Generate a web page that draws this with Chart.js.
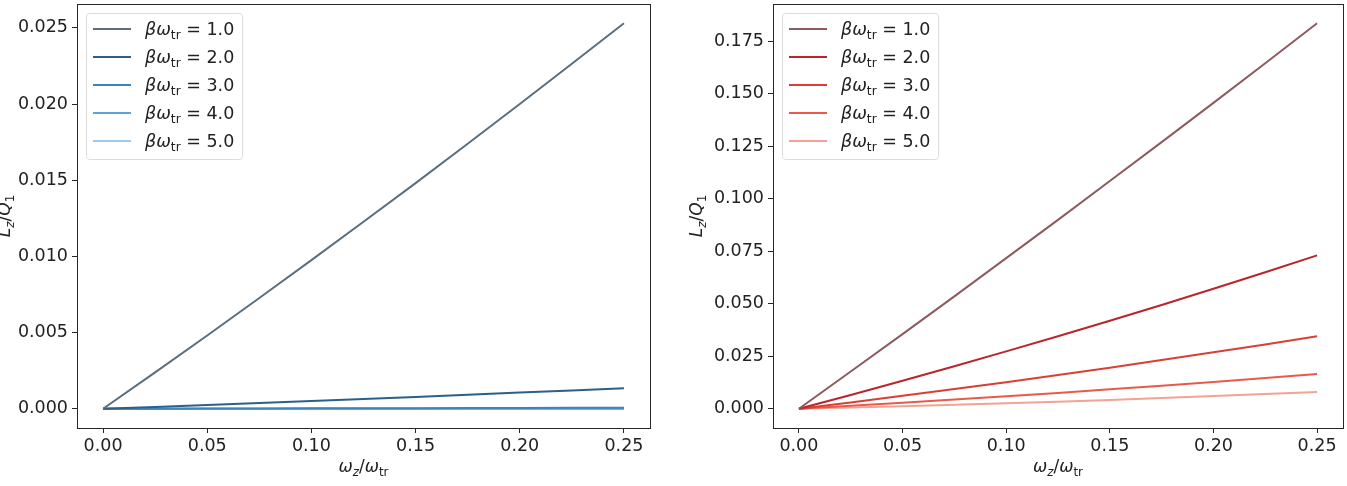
<!DOCTYPE html>
<html>
<head>
<meta charset="utf-8">
<script src="https://cdn.jsdelivr.net/npm/chart.js@4.4.0/dist/chart.umd.min.js"></script>
<style>
  body { margin: 0; background: #fff; width: 1347px; height: 486px; position: relative; overflow: hidden; }
  .box { position: absolute; top: 0; height: 486px; }
</style>
</head>
<body>
<div class="box" style="left:0;width:670px"><canvas id="leftChart"></canvas></div>
<div class="box" style="left:680px;width:667px"><canvas id="rightChart"></canvas></div>
<script>
// x positions (omega_z / omega_tr)
const xValues = [0, 0.025, 0.05, 0.075, 0.1, 0.125, 0.15, 0.175, 0.2, 0.225, 0.25];
const xTicks = [0, 0.05, 0.1, 0.15, 0.2, 0.25];
const leftYTicks = [0, 0.005, 0.01, 0.015, 0.02, 0.025];
const rightYTicks = [0, 0.025, 0.05, 0.075, 0.1, 0.125, 0.15, 0.175];
const betaLabels = ["1.0", "2.0", "3.0", "4.0", "5.0"];

// left panel (blues)
const blue1 = [0, 0.00239, 0.00481, 0.00727, 0.00975, 0.01227, 0.01481, 0.01739, 0.0200, 0.02264, 0.0253];
const blue2 = [0, 0.00012, 0.00025, 0.00037, 0.00050, 0.00064, 0.00077, 0.00091, 0.00106, 0.00120, 0.00135];
const blue3 = [0, 0.000005, 0.00001, 0.000017, 0.000024, 0.000031, 0.000038, 0.000046, 0.000054, 0.000062, 0.00007];
const blue4 = [0, 0.0000003, 0.0000006, 0.000001, 0.0000014, 0.0000018, 0.0000022, 0.0000027, 0.0000031, 0.0000036, 0.000004];
const blue5 = [0, 0, 0, 0.0000001, 0.0000001, 0.0000001, 0.0000001, 0.0000001, 0.0000002, 0.0000002, 0.0000002];

// right panel (reds)
const red1 = [0, 0.0177, 0.0355, 0.0535, 0.0717, 0.0899, 0.1084, 0.1269, 0.1456, 0.1645, 0.1835];
const red2 = [0, 0.00657, 0.0133, 0.0202, 0.0273, 0.0345, 0.0419, 0.0494, 0.0571, 0.0650, 0.073];
const red3 = [0, 0.00302, 0.00614, 0.00935, 0.01266, 0.01606, 0.01956, 0.02315, 0.02684, 0.03062, 0.0345];
const red4 = [0, 0.00139, 0.00285, 0.00435, 0.00592, 0.00754, 0.00922, 0.01096, 0.01275, 0.0146, 0.0165];
const red5 = [0, 0.00058, 0.0012, 0.00188, 0.00261, 0.00338, 0.00421, 0.00509, 0.00601, 0.00698, 0.008];

const blueColors = ["#5b6e7e", "#2c5f8a", "#3d84bf", "#62a1d5", "#a0c8e8"];
const redColors = ["#8c5a5f", "#b8262b", "#d83f35", "#e85a4c", "#f4a293"];

const FONT = "DejaVu Sans";
const TEXT = "#222";

// draw a small piece of "math" text: parts = [text, italic, subscript]
function drawMath(ctx, parts, x, y, size, align) {
  const fontFor = (p) => `${p[1] ? "italic " : ""}${p[2] ? size * 0.7 : size}px "${FONT}"`;
  let total = 0;
  parts.forEach((p) => { ctx.font = fontFor(p); total += ctx.measureText(p[0]).width; });
  let cx = align === "center" ? x - total / 2 : x;
  ctx.textBaseline = "alphabetic";
  ctx.textAlign = "left";
  ctx.fillStyle = TEXT;
  parts.forEach((p) => {
    ctx.font = fontFor(p);
    ctx.fillText(p[0], cx, y + size * 0.36 + (p[2] ? size * 0.22 : 0));
    cx += ctx.measureText(p[0]).width;
  });
}

const xTitle = [["ω", true], ["z", true, true], ["/", false], ["ω", true], ["tr", false, true]];
const yTitle = [["L", true], ["z", true, true], ["/", false], ["Q", true], ["1", false, true]];

// frame, axis titles and legend drawn in matplotlib style
const decorPlugin = {
  id: "decor",
  afterDatasetsDraw(chart) {
    const { ctx, chartArea: a } = chart;
    ctx.save();
    ctx.strokeStyle = "#262626";
    ctx.lineWidth = 1;
    ctx.strokeRect(Math.round(a.left) + 0.5, Math.round(a.top) + 0.5,
      Math.round(a.right - a.left), Math.round(a.bottom - a.top));

    // legend box
    const bx = a.left + 9, by = a.top + 9, bw = 156, bh = 146;
    ctx.beginPath();
    ctx.roundRect(bx + 0.5, by + 0.5, bw, bh, 3);
    ctx.fillStyle = "rgba(255,255,255,0.8)";
    ctx.fill();
    ctx.strokeStyle = "#dcdcdc";
    ctx.stroke();
    chart.data.datasets.forEach((ds, i) => {
      const ry = by + 16 + i * 28;
      ctx.beginPath();
      ctx.moveTo(bx + 7, ry);
      ctx.lineTo(bx + 45, ry);
      ctx.strokeStyle = ds.borderColor;
      ctx.lineWidth = 2;
      ctx.stroke();
      drawMath(ctx, [["β", true], ["ω", true], ["tr", false, true], [" = " + betaLabels[i], false]],
        bx + 59, ry, 17.5, "left");
    });

    // axis titles
    drawMath(ctx, xTitle, (a.left + a.right) / 2, 466, 17, "center");
    ctx.translate(chart.options.yTitleX, (a.top + a.bottom) / 2);
    ctx.rotate(-Math.PI / 2);
    drawMath(ctx, yTitle, 0, 0, 17, "center");
    ctx.restore();
  },
};

const noPadding = (s) => { s.paddingTop = 0; s.paddingBottom = 0; s.paddingLeft = 0; s.paddingRight = 0; };

function makeChart(canvas, series, colors, yTicks, yMin, yMax, axisWidth, rightPad, yTitleX) {
  return new Chart(canvas, {
    type: "line",
    data: {
      datasets: series.map((s, i) => ({
        label: "βω = " + betaLabels[i],
        data: xValues.map((x, j) => ({ x: x, y: s[j] })),
        borderColor: colors[i],
        borderWidth: 2,
        pointRadius: 0,
        tension: 0,
        fill: false,
      })),
    },
    options: {
      responsive: true,
      maintainAspectRatio: false,
      animation: false,
      yTitleX: yTitleX,
      layout: { padding: { top: 4, right: rightPad, left: 0, bottom: 0 } },
      plugins: { legend: { display: false }, tooltip: { enabled: false } },
      scales: {
        x: {
          type: "linear",
          min: -0.0125,
          max: 0.2625,
          afterBuildTicks: (s) => { s.ticks = xTicks.map((v) => ({ value: v })); },
          afterFit: (s) => { s.height = 58; noPadding(s); },
          ticks: {
            callback: (v) => v.toFixed(2),
            font: { family: FONT, size: 17.5 },
            color: TEXT,
            padding: 3,
            maxRotation: 0,
            autoSkip: false,
          },
          grid: { drawOnChartArea: false, drawTicks: true, tickLength: 5, color: "#262626" },
          border: { color: "#262626", width: 1 },
        },
        y: {
          min: yMin,
          max: yMax,
          afterBuildTicks: (s) => { s.ticks = yTicks.map((v) => ({ value: v })); },
          afterFit: (s) => { s.width = axisWidth; noPadding(s); },
          ticks: {
            callback: (v) => v.toFixed(3),
            font: { family: FONT, size: 17.5 },
            color: TEXT,
            padding: 4,
            autoSkip: false,
          },
          grid: { drawOnChartArea: false, drawTicks: true, tickLength: 5, color: "#262626" },
          border: { color: "#262626", width: 1 },
        },
      },
    },
    plugins: [decorPlugin],
  });
}

makeChart(document.getElementById("leftChart"),
  [blue1, blue2, blue3, blue4, blue5], blueColors, leftYTicks, -0.001265, 0.026565, 77, 20, 4);
makeChart(document.getElementById("rightChart"),
  [red1, red2, red3, red4, red5], redColors, rightYTicks, -0.009175, 0.192675, 93, 4, 16);
</script>
</body>
</html>
